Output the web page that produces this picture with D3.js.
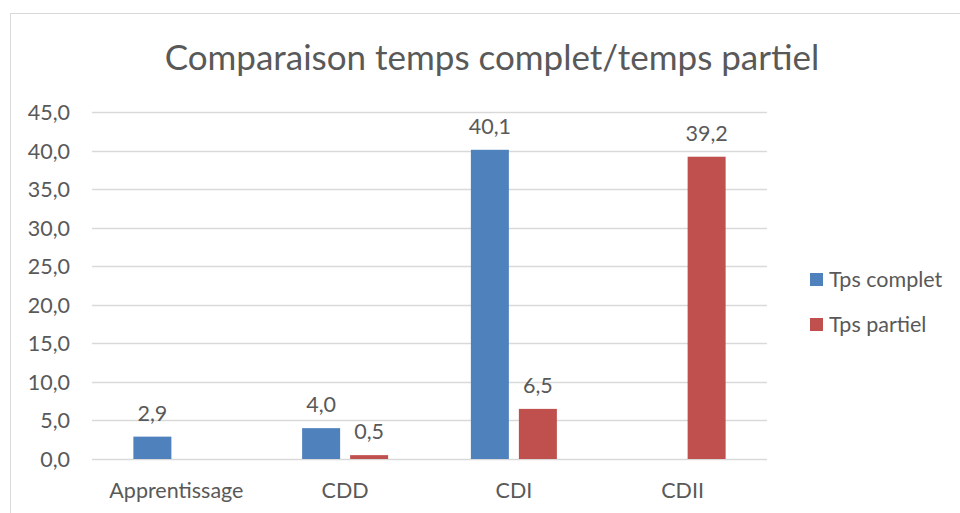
<!DOCTYPE html>
<html>
<head>
<meta charset="utf-8">
<script src="https://cdn.jsdelivr.net/npm/d3@7"></script>
<style>
  body { margin: 0; background: #fff; }
  text { font-family: Lato, "Open Sans", sans-serif; fill: #595959; }
</style>
</head>
<body>
<script>
const categories = ["Apprentissage", "CDD", "CDI", "CDII"];
const seriesNames = ["Tps complet", "Tps partiel"];
const tpsComplet = [2.9, 4.0, 40.1, null];
const tpsPartiel = [null, 0.5, 6.5, 39.2];
const yTicks = [0, 5, 10, 15, 20, 25, 30, 35, 40, 45];
const COLORS = ["#4F81BD", "#C0504D"];

const WIDTH = 960;
const HEIGHT = 513;
const plot = { left: 92, right: 767, top: 112, bottom: 459 };
const FS = "21.5px";

const fmt = (v) => d3.format(".1f")(v).replace(".", ",");

const svg = d3.select("body")
  .append("svg")
  .attr("width", WIDTH)
  .attr("height", HEIGHT);

// outer chart border (runs off the right and bottom edges)
svg.append("rect")
  .attr("x", 10.5)
  .attr("y", 13.5)
  .attr("width", 1000)
  .attr("height", 1000)
  .attr("fill", "none")
  .attr("stroke", "#D9D9D9");

svg.append("text")
  .attr("x", 492)
  .attr("y", 70)
  .attr("text-anchor", "middle")
  .style("font-size", "35px")
  .text("Comparaison temps complet/temps partiel");

const x = d3.scaleBand()
  .domain(categories)
  .range([plot.left, plot.right]);

const y = d3.scaleLinear()
  .domain([0, 45])
  .range([plot.bottom, plot.top]);

const barW = 38;
const gap = 10;
const xs = d3.scaleOrdinal()
  .domain(seriesNames)
  .range([-(barW + gap / 2), gap / 2]);

// gridlines
svg.append("g")
  .selectAll("line")
  .data(yTicks)
  .join("line")
  .attr("x1", plot.left)
  .attr("x2", plot.right)
  .attr("y1", (d) => Math.round(y(d)) + 0.5)
  .attr("y2", (d) => Math.round(y(d)) + 0.5)
  .attr("stroke", "#D9D9D9")
  .attr("stroke-width", 1.5);

const yAxis = svg.append("g")
  .attr("transform", `translate(${plot.left - 22},0)`)
  .call(d3.axisLeft(y).tickValues(yTicks).tickFormat(fmt).tickSize(0));
yAxis.select(".domain").remove();
yAxis.selectAll("text")
  .attr("x", 0)
  .attr("dy", "0.35em")
  .style("font-size", FS)
  .style("font-family", "Lato, sans-serif")
  .attr("fill", "#595959");

const xAxis = svg.append("g")
  .attr("transform", `translate(0,${plot.bottom})`)
  .call(d3.axisBottom(x).tickSize(0));
xAxis.select(".domain").remove();
xAxis.selectAll("text")
  .attr("y", 39)
  .attr("dy", 0)
  .style("font-size", FS)
  .style("font-family", "Lato, sans-serif")
  .attr("fill", "#595959");

const series = [tpsComplet, tpsPartiel];
const bars = [];
series.forEach((vals, s) => {
  vals.forEach((v, i) => {
    if (v !== null) bars.push({ cat: categories[i], name: seriesNames[s], value: v, s });
  });
});

const centre = (d) => x(d.cat) + x.bandwidth() / 2 + xs(d.name);

svg.append("g")
  .selectAll("rect")
  .data(bars)
  .join("rect")
  .attr("x", centre)
  .attr("y", (d) => y(d.value))
  .attr("width", barW)
  .attr("height", (d) => y(0) - y(d.value))
  .attr("fill", (d) => COLORS[d.s]);

svg.append("g")
  .selectAll("text")
  .data(bars)
  .join("text")
  .attr("x", (d) => centre(d) + barW / 2)
  .attr("y", (d) => y(d.value) - 16)
  .attr("text-anchor", "middle")
  .style("font-size", FS)
  .text((d) => fmt(d.value));

const legend = svg.append("g").attr("transform", "translate(810,273)");
const item = legend.selectAll("g")
  .data(seriesNames)
  .join("g")
  .attr("transform", (d, i) => `translate(0,${i * 45})`);
item.append("rect")
  .attr("width", 13)
  .attr("height", 13)
  .attr("fill", (d, i) => COLORS[i]);
item.append("text")
  .attr("x", 19)
  .attr("y", 14)
  .style("font-size", FS)
  .text((d) => d);
</script>
</body>
</html>
